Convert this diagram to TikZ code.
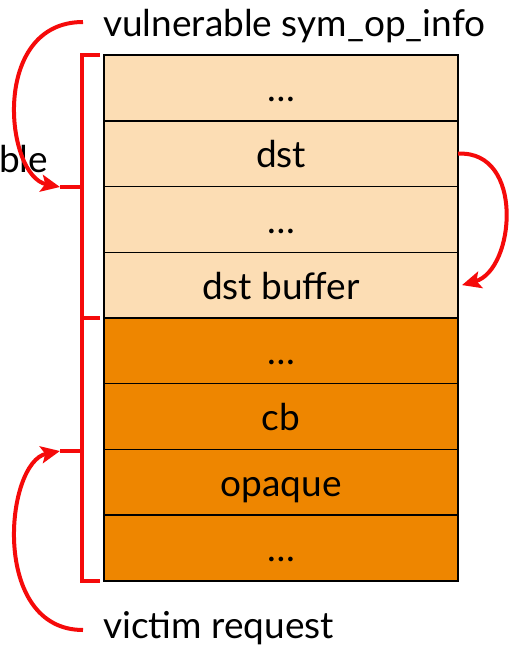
\documentclass[tikz,border=0pt]{standalone}
\usepackage{fontspec}
\setmainfont{Lato}
\usetikzlibrary{positioning, arrows.meta}

\definecolor{peach}{HTML}{FCDDB4}
\definecolor{deeporange}{HTML}{EE8600}
\definecolor{markred}{HTML}{F50A0A}

\begin{document}
\begin{tikzpicture}[
x=1pt, y=-1pt,
    cell/.style={rectangle, draw, line width=1.5pt, minimum width=354pt, minimum height=65.7pt, inner sep=0pt, outer sep=0pt, text height=30pt, text depth=2pt, font=\fontsize{37}{42}\selectfont},
    lite/.style={cell, fill=peach},
    dark/.style={cell, fill=deeporange},
    label/.style={inner sep=0pt, font=\fontsize{37}{42}\selectfont},
    brace/.style={draw=markred, line width=4pt},
    jump/.style={draw=markred, line width=4pt, -{Stealth[length=19pt, width=17pt, inset=4pt]}}
]
    \useasboundingbox (0,0) rectangle (509,647);

    % Stack cells
    \node[lite] (r1) at (281,88) {\dots};
    \node[lite, below=0pt of r1] (r2) {dst};
    \node[lite, below=0pt of r2] (r3) {\dots};
    \node[lite, below=0pt of r3] (r4) {dst buffer};
    \node[dark, below=0pt of r4] (r5) {\dots};
    \node[dark, below=0pt of r5] (r6) {cb};
    \node[dark, below=0pt of r6] (r7) {opaque};
    \node[dark, below=0pt of r7] (r8) {\dots};

    % Labels
    \node[label, anchor=base west] (vuln) at (103,37) {vulnerable sym\_op\_info};
    \node[label, anchor=base west] (victim) at (103,638) {victim request};
    \node[label, anchor=base west] (cut) at (-1,172) {ble};

    % Bracket tips
    \coordinate (tip1) at (60,187);
    \coordinate (tip2) at (60,451);

    % Brackets
    \draw[brace] ([xshift=-4pt]r1.north west) -- ++(-18,0) |- ([xshift=-4pt]r4.south west);
    \draw[brace] (82,187) -- (tip1);
    \draw[brace] ([xshift=-4pt]r5.north west) -- ++(-18,0) |- ([xshift=-4pt]r8.south west);
    \draw[brace] (82,451) -- (tip2);

    % Arrows
    \draw[jump] (83,22) .. controls (-10,22) and (5,176) .. (tip1);
    \draw[jump] (83,630) .. controls (-10,630) and (5,462) .. (tip2);
    \draw[jump] (r2.east) .. controls (525,150) and (515,270) .. ([xshift=4pt]r4.east);

\end{tikzpicture}
\end{document}
